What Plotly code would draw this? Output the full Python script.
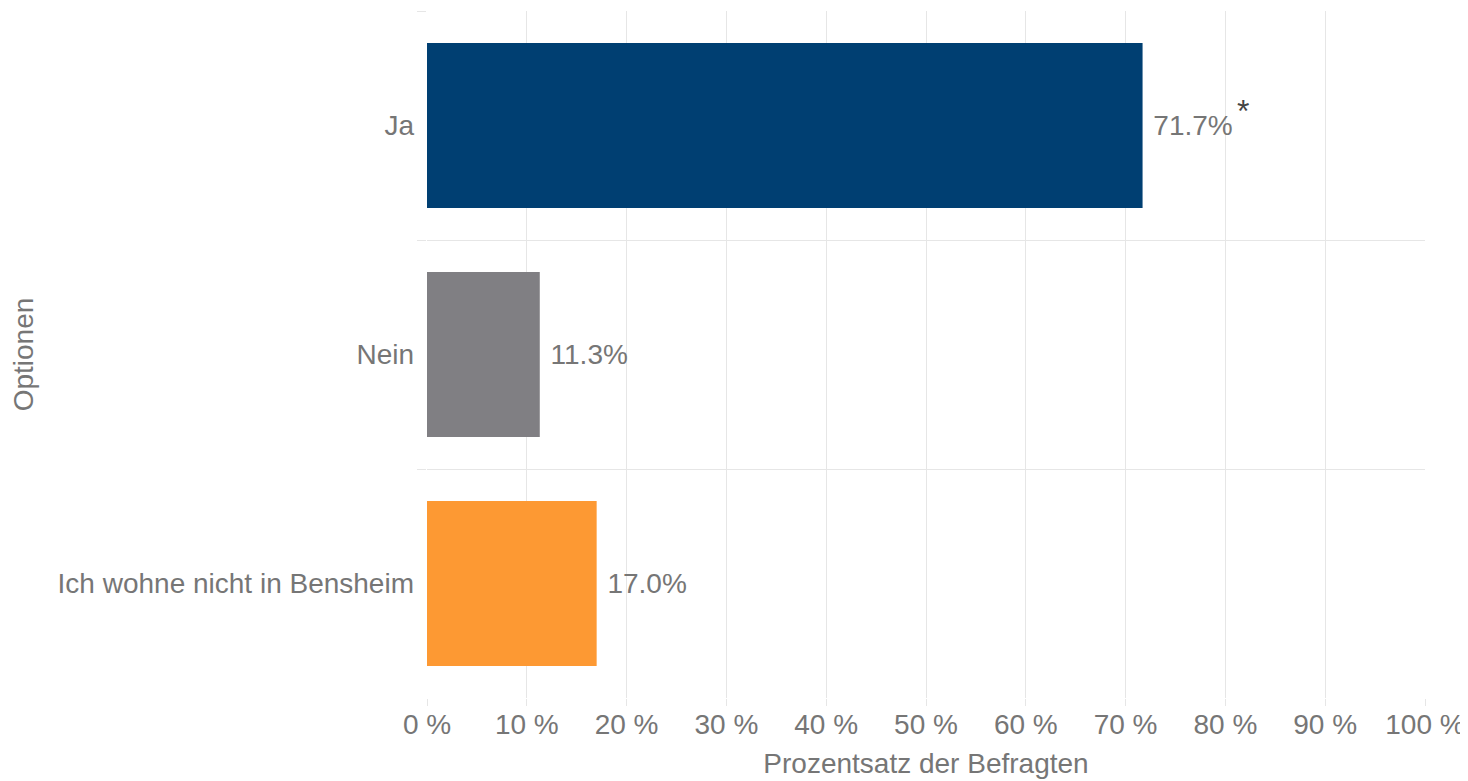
import plotly.graph_objects as go

categories = ["Ja", "Nein", "Ich wohne nicht in Bensheim"]
values = [71.7, 11.3, 17.0]
colors = ["#003f72", "#807f83", "#fd9933"]
x_ticks = list(range(0, 101, 10))
x_tick_labels = [f"{t} %" for t in x_ticks]

grey = "#767676"
grid = "#e6e6e6"
font_family = "Liberation Sans, Arial, sans-serif"
fs = 28

fig = go.Figure(go.Bar(
    x=values,
    y=categories,
    orientation="h",
    marker=dict(color=colors, line=dict(width=0)),
    width=0.72,
    text=[f" {v:.1f}%" for v in values],
    textposition="outside",
    textfont=dict(size=fs, color=grey, family=font_family),
    cliponaxis=False,
))

fig.add_annotation(
    x=81.8, y="Ja", xref="x", yref="y",
    text="*", showarrow=False, yshift=15,
    font=dict(size=32, color="#444444", family=font_family),
)

# page body has an 8px margin, so the figure is sized 8px smaller
fig.update_layout(
    width=1460, height=773,
    margin=dict(l=419, r=43, t=3, b=83),
    paper_bgcolor="white", plot_bgcolor="white",
    showlegend=False,
    font=dict(family=font_family, size=fs, color=grey),
    xaxis=dict(
        range=[0, 100],
        tickvals=x_ticks,
        ticktext=x_tick_labels,
        showgrid=True, gridcolor=grid, gridwidth=1,
        zeroline=False,
        ticks="outside", ticklen=7, tickcolor=grid,
        ticklabelstandoff=-6,
        tickfont=dict(size=fs, color=grey),
        title=dict(text="Prozentsatz der Befragten", font=dict(size=fs, color=grey), standoff=14),
        showline=False,
        automargin=False,
    ),
    yaxis=dict(
        type="category",
        categoryorder="array",
        categoryarray=categories,
        autorange="reversed",
        tickson="boundaries",
        showgrid=True, gridcolor=grid, gridwidth=1,
        ticks="outside", ticklen=9, tickcolor=grid,
        ticklabelstandoff=12,
        tickfont=dict(size=fs, color=grey),
        title=dict(text="Optionen", font=dict(size=fs, color=grey), standoff=22),
        zeroline=False,
        showline=False,
        automargin=False,
    ),
)

fig.write_html("out.html")
